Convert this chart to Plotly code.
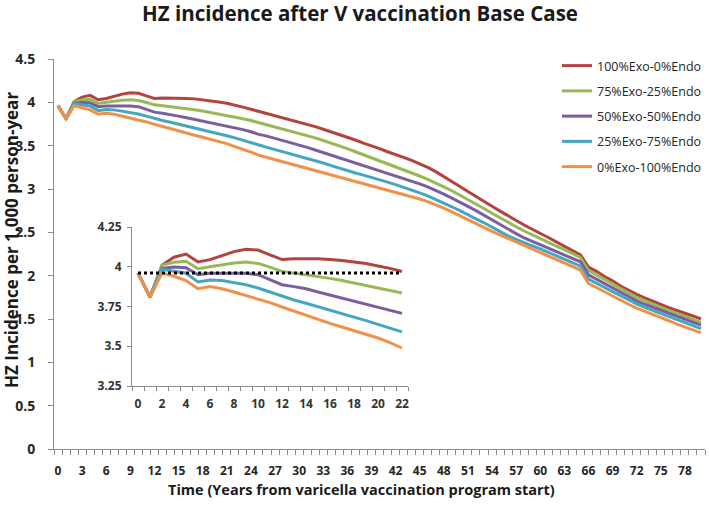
import plotly.graph_objects as go

years = list(range(0, 81))

s_100_0 = [3.96, 3.81, 4.01, 4.06, 4.08, 4.03, 4.045, 4.07, 4.095, 4.11, 4.105, 4.075, 4.045, 4.05, 4.05, 4.05, 4.045, 4.04, 4.03, 4.02, 4.005, 3.99, 3.97,
           3.945, 3.92, 3.895, 3.875, 3.85, 3.825, 3.80, 3.775, 3.745, 3.72, 3.69, 3.66, 3.63, 3.60, 3.565, 3.53, 3.50, 3.465, 3.43, 3.40, 3.365, 3.33, 3.29, 3.25,
           3.20, 3.145, 3.09, 3.03, 2.97, 2.91, 2.855, 2.80, 2.745, 2.69, 2.635, 2.585, 2.535, 2.49, 2.44, 2.39, 2.34, 2.29, 2.24,
           2.10, 2.05, 1.99, 1.94, 1.88, 1.83, 1.785, 1.745, 1.71, 1.67, 1.63, 1.60, 1.565, 1.535, 1.50]
s_75_25 = [3.96, 3.81, 4.01, 4.028, 4.034, 3.988, 4.0, 4.013, 4.023, 4.03, 4.021, 3.998, 3.971, 3.96, 3.95, 3.939, 3.927, 3.914, 3.899, 3.882, 3.866, 3.851, 3.835,
           3.81, 3.79, 3.765, 3.745, 3.72, 3.695, 3.67, 3.645, 3.62, 3.59, 3.56, 3.53, 3.50, 3.465, 3.43, 3.395, 3.36, 3.33, 3.295, 3.26, 3.225, 3.19, 3.15, 3.11,
           3.07, 3.025, 2.98, 2.93, 2.88, 2.83, 2.775, 2.72, 2.665, 2.615, 2.565, 2.515, 2.47, 2.43, 2.385, 2.34, 2.30, 2.255, 2.21,
           2.06, 2.01, 1.955, 1.905, 1.85, 1.80, 1.75, 1.71, 1.67, 1.635, 1.60, 1.565, 1.53, 1.495, 1.46]
s_50_50 = [3.96, 3.81, 3.99, 3.998, 3.994, 3.95, 3.959, 3.96, 3.959, 3.959, 3.95, 3.919, 3.887, 3.875, 3.862, 3.841, 3.822, 3.803, 3.782, 3.763, 3.744, 3.726, 3.707,
           3.685, 3.66, 3.63, 3.61, 3.585, 3.56, 3.535, 3.505, 3.48, 3.45, 3.42, 3.39, 3.36, 3.33, 3.30, 3.27, 3.245, 3.215, 3.185, 3.155, 3.125, 3.09, 3.06, 3.025,
           2.985, 2.94, 2.895, 2.85, 2.80, 2.75, 2.695, 2.645, 2.59, 2.54, 2.485, 2.435, 2.395, 2.355, 2.315, 2.275, 2.235, 2.195, 2.16,
           2.01, 1.96, 1.91, 1.86, 1.81, 1.76, 1.71, 1.67, 1.635, 1.60, 1.565, 1.53, 1.50, 1.465, 1.43]
s_25_75 = [3.96, 3.81, 3.984, 3.973, 3.959, 3.904, 3.917, 3.913, 3.898, 3.887, 3.866, 3.841, 3.814, 3.791, 3.77, 3.749, 3.726, 3.705, 3.682, 3.661, 3.638, 3.615, 3.59,
           3.565, 3.535, 3.508, 3.48, 3.455, 3.43, 3.405, 3.38, 3.355, 3.33, 3.30, 3.27, 3.24, 3.21, 3.185, 3.16, 3.135, 3.11, 3.08, 3.05, 3.02, 2.99, 2.955, 2.92,
           2.88, 2.84, 2.795, 2.75, 2.70, 2.655, 2.61, 2.56, 2.51, 2.46, 2.42, 2.38, 2.345, 2.31, 2.27, 2.23, 2.19, 2.15, 2.11,
           1.96, 1.91, 1.865, 1.815, 1.77, 1.72, 1.675, 1.635, 1.60, 1.565, 1.53, 1.49, 1.455, 1.42, 1.39]
s_0_100 = [3.96, 3.81, 3.96, 3.94, 3.913, 3.862, 3.875, 3.862, 3.841, 3.82, 3.797, 3.774, 3.747, 3.72, 3.694, 3.667, 3.644, 3.621, 3.598, 3.575, 3.552, 3.523, 3.489,
           3.46, 3.425, 3.39, 3.365, 3.34, 3.315, 3.29, 3.265, 3.24, 3.215, 3.19, 3.165, 3.14, 3.115, 3.09, 3.065, 3.04, 3.015, 2.99, 2.965, 2.94, 2.915, 2.885, 2.855,
           2.82, 2.78, 2.735, 2.69, 2.645, 2.595, 2.55, 2.51, 2.47, 2.43, 2.385, 2.345, 2.305, 2.265, 2.225, 2.185, 2.145, 2.105, 2.065,
           1.91, 1.86, 1.81, 1.765, 1.715, 1.67, 1.625, 1.59, 1.55, 1.515, 1.48, 1.44, 1.41, 1.375, 1.34]

series_names = ["100%Exo-0%Endo", "75%Exo-25%Endo", "50%Exo-50%Endo", "25%Exo-75%Endo", "0%Exo-100%Endo"]
series_values = [s_100_0, s_75_25, s_50_50, s_25_75, s_0_100]
series_colors = ["#B3433F", "#97B855", "#7B5E9E", "#45A6C2", "#F0914A"]

inset_years = years[:23]
baseline_value = 3.96
inset_baseline = [baseline_value] * len(inset_years)

main_yticks = [0, 0.5, 1, 1.5, 2, 2.5, 3, 3.5, 4, 4.5]
main_yticktext = ["0", "0.5", "1", "1.5", "2", "2.5", "3", "3.5", "4", "4.5"]
inset_yticks = [3.25, 3.5, 3.75, 4, 4.25]
inset_yticktext = ["3.25", "3.5", "3.75", "4", "4.25"]

FONT = "Open Sans"
TXT = "#262626"
AX = "#8C8C8C"

fig = go.Figure()

for name, vals, col in zip(series_names, series_values, series_colors):
    fig.add_trace(go.Scatter(x=years, y=vals, mode="lines", name=name,
                             line=dict(color=col, width=3), legendgroup=name,
                             xaxis="x", yaxis="y"))

for name, vals, col in zip(series_names, series_values, series_colors):
    fig.add_trace(go.Scatter(x=inset_years, y=vals[:23], mode="lines", name=name,
                             line=dict(color=col, width=3), showlegend=False,
                             xaxis="x2", yaxis="y2"))

fig.add_trace(go.Scatter(x=inset_years, y=inset_baseline, mode="lines", showlegend=False,
                         line=dict(color="black", width=3, dash="dot"),
                         xaxis="x2", yaxis="y2"))

L, R, T, B = 54, 4, 59, 60
W, H = 709, 509
PW, PH = W - L - R, H - T - B

fig.update_layout(
    width=W, height=H,
    margin=dict(l=L, r=R, t=T, b=B, autoexpand=False),
    paper_bgcolor="white", plot_bgcolor="white",
    font=dict(family=FONT, color=TXT, size=13),
    title=dict(text="HZ incidence after V vaccination Base Case",
               font=dict(family=FONT, size=20.5, color="#1a1a1a", weight="bold"),
               x=360 / W, xref="container", xanchor="center",
               y=1 - 14 / H, yref="container", yanchor="middle"),
    showlegend=True,
    legend=dict(x=(557 - L) / PW, xanchor="left", y=1 + 8 / PH, yanchor="top",
                bgcolor="rgba(0,0,0,0)",
                font=dict(family=FONT, size=12.5, color=TXT),
                itemwidth=30, tracegroupgap=6, traceorder="grouped"),
    xaxis=dict(domain=[0, 1], range=[-0.5, 80.5], tickmode="linear", tick0=0, dtick=3,
               ticks="", showgrid=False, zeroline=False, showline=True, linecolor=AX, linewidth=1,
               automargin=False,
               tickfont=dict(family=FONT, size=12, color=TXT, weight="bold"),
               ticklabelstandoff=11,
               minor=dict(tickmode="linear", tick0=-0.5, dtick=1, ticks="outside", ticklen=5,
                          tickcolor=AX, showgrid=False)),
    yaxis=dict(domain=[0, 1], range=[0, 4.5], tickmode="array", tickvals=main_yticks,
               ticktext=main_yticktext, ticks="outside", ticklen=5, tickcolor=AX,
               showgrid=False, zeroline=False, showline=True, linecolor=AX, linewidth=1,
               automargin=False,
               tickfont=dict(family=FONT, size=14, color=TXT, weight="bold"),
               ticklabelstandoff=10),
    xaxis2=dict(domain=[(132 - L) / PW, (408 - L) / PW], anchor="y2",
                range=[-0.5, 22.5], tickmode="linear", tick0=0, dtick=2, ticks="",
                showgrid=False, zeroline=False, showline=True, linecolor=AX, linewidth=1,
                automargin=False,
                tickfont=dict(family=FONT, size=12, color="#333333", weight="bold"),
                ticklabelstandoff=7,
                minor=dict(tickmode="linear", tick0=-0.5, dtick=1, ticks="outside", ticklen=4,
                           tickcolor=AX, showgrid=False)),
    yaxis2=dict(domain=[(449 - 386) / PH, (449 - 227) / PH], anchor="x2",
                range=[3.25, 4.25], tickmode="array", tickvals=inset_yticks, ticktext=inset_yticktext,
                ticks="outside", ticklen=4, tickcolor=AX,
                showgrid=False, zeroline=False, showline=True, linecolor=AX, linewidth=1,
                automargin=False,
                tickfont=dict(family=FONT, size=12, color="#333333", weight="bold"),
                ticklabelstandoff=3),
    annotations=[
        dict(text="HZ Incidence per 1,000 person-year", xref="paper", yref="paper",
             x=-(L - 11) / PW, y=(449 - 240) / PH, xanchor="center", yanchor="middle",
             textangle=-90, showarrow=False,
             font=dict(family=FONT, size=17, color="#1a1a1a", weight="bold")),
        dict(text="Time (Years from varicella vaccination program start)", xref="paper", yref="paper",
             x=(361 - L) / PW, y=-(489 - 449) / PH, xanchor="center", yanchor="middle",
             showarrow=False,
             font=dict(family=FONT, size=14.5, color="#1a1a1a", weight="bold")),
    ],
)

fig.write_html("out.html", config={"displayModeBar": False},
               post_script="document.body.style.margin='0';")
